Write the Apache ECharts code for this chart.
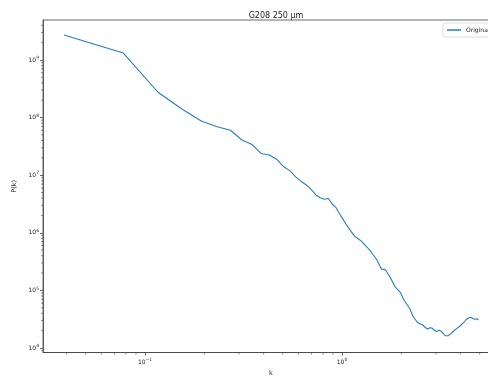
<!DOCTYPE html>
<html>
<head>
<meta charset="utf-8">
<script src="https://cdn.jsdelivr.net/npm/echarts@6/dist/echarts.min.js"></script>
<style>html,body{margin:0;padding:0;background:#fff;}#c{width:488px;height:377px;}</style>
</head>
<body>
<div id="c"></div>
<script>
// wavenumber k
const kValues = [0.0388,0.0776,0.1164,0.1552,0.194,0.2328,0.2716,0.3104,0.3492,0.388,
0.4268,0.4656,0.5044,0.5432,0.582,0.6208,0.6596,0.6984,0.7372,0.776,
0.8148,0.8536,0.8924,0.9312,0.97,1.0088,1.0476,1.0864,1.1252,1.164,
1.2028,1.2416,1.2804,1.3192,1.358,1.3968,1.4356,1.4744,1.5132,1.552,
1.5908,1.6296,1.6684,1.7072,1.746,1.7848,1.8236,1.8624,1.9012,1.94,
1.9788,2.0176,2.0564,2.0952,2.134,2.1728,2.2116,2.2504,2.2892,2.328,
2.3668,2.4056,2.4444,2.4832,2.522,2.5608,2.5996,2.6384,2.6772,2.716,
2.7548,2.7936,2.8324,2.8712,2.91,2.9488,2.9876,3.0264,3.0652,3.104,
3.1428,3.1816,3.2204,3.2592,3.298,3.3368,3.3756,3.4144,3.4532,3.492,
3.5308,3.5696,3.6084,3.6472,3.686,3.7248,3.7636,3.8024,3.8412,3.88,
3.9188,3.9576,3.9964,4.0352,4.074,4.1128,4.1516,4.1904,4.2292,4.268,
4.3068,4.3456,4.3844,4.4232,4.462,4.5008,4.5396,4.5784,4.6172,4.656,
4.6948,4.7336,4.7724,4.8112,4.85,4.8888,4.9276];
// power spectrum P(k), series "Original"
const pOriginal = [2.72e9,1.32e9,2.75e8,1.38e8,8.63e7,6.90e7,6.02e7,4.08e7,3.41e7,2.38e7,
2.24e7,1.89e7,1.41e7,1.20e7,9.31e6,7.78e6,6.76e6,5.60e6,4.53e6,4.05e6,
3.82e6,3.94e6,3.13e6,2.75e6,2.16e6,1.74e6,1.42e6,1.18e6,9.93e5,8.56e5,
7.93e5,7.35e5,6.65e5,5.94e5,5.34e5,4.78e5,4.20e5,3.72e5,3.24e5,2.70e5,
2.31e5,2.35e5,2.21e5,1.96e5,1.74e5,1.52e5,1.32e5,1.15e5,1.06e5,9.84e4,
9.19e4,8.00e4,6.95e4,6.29e4,5.81e4,5.25e4,4.75e4,4.13e4,3.59e4,3.28e4,
3.06e4,2.83e4,2.68e4,2.63e4,2.59e4,2.53e4,2.46e4,2.29e4,2.14e4,2.14e4,
2.21e4,2.25e4,2.27e4,2.21e4,2.10e4,2.01e4,1.95e4,1.93e4,1.97e4,2.03e4,
2.05e4,1.96e4,1.87e4,1.80e4,1.72e4,1.63e4,1.58e4,1.58e4,1.63e4,1.68e4,
1.72e4,1.77e4,1.84e4,1.90e4,1.97e4,2.01e4,2.10e4,2.14e4,2.23e4,2.27e4,
2.31e4,2.41e4,2.46e4,2.53e4,2.61e4,2.66e4,2.77e4,2.88e4,3.00e4,3.12e4,
3.19e4,3.25e4,3.32e4,3.35e4,3.38e4,3.41e4,3.38e4,3.32e4,3.25e4,3.19e4,
3.12e4,3.15e4,3.21e4,3.24e4,3.21e4,3.12e4,3.06e4];
const seriesName = 'Original';
const titleText = 'G208 250 \u03bcm';
const xLabel = 'k';
const yLabel = 'P(k)';
// axis limits and minor tick positions (log axes)
const xMin = 0.03035, xMax = 6.266;
const yMin = 8340, yMax = 4.94e9;
const minorTicksX = [0.04,0.05,0.06,0.07,0.08,0.09,0.2,0.3,0.4,0.5,0.6,0.7,0.8,0.9,2,3,4,5,6];
const minorTicksY = [9e3,
 2e4,3e4,4e4,5e4,6e4,7e4,8e4,9e4,
 2e5,3e5,4e5,5e5,6e5,7e5,8e5,9e5,
 2e6,3e6,4e6,5e6,6e6,7e6,8e6,9e6,
 2e7,3e7,4e7,5e7,6e7,7e7,8e7,9e7,
 2e8,3e8,4e8,5e8,6e8,7e8,8e8,9e8,
 2e9,3e9,4e9];

const axisColor = '#444';
const textColor = '#222';
const font = 'DejaVu Sans';

function powLabel(v) {
  const l = Math.log10(v);
  const e = Math.round(l);
  if (Math.abs(l - e) > 1e-6) return '';
  return '10{e|' + (e < 0 ? '\u2212' + (-e) : e) + '}';
}
const richLbl = { e: { fontSize: 4.5, fontFamily: font, color: textColor, padding: [0, 0, 4, 0] } };

const chart = echarts.init(document.getElementById('c'));
chart.setOption({
  animation: false,
  backgroundColor: '#fff',
  title: {
    text: titleText, left: 271, top: 7, textAlign: 'center',
    textStyle: { fontFamily: font, fontSize: 8, fontWeight: 'normal', color: textColor }
  },
  legend: {
    data: [{ name: seriesName, icon: 'rect' }],
    left: 443, top: 23, itemWidth: 14, itemHeight: 1.5, itemGap: 4,
    padding: [4, 4, 4, 4], borderColor: '#ddd', borderWidth: 1, borderRadius: 2,
    textStyle: { fontFamily: font, fontSize: 6, color: textColor }
  },
  grid: { left: 43, top: 20, width: 456, height: 332.5, show: true, borderColor: axisColor, borderWidth: 0.8, containLabel: false, outerBoundsMode: 'none' },
  xAxis: {
    type: 'log', logBase: 10, min: xMin, max: xMax,
    name: xLabel, nameLocation: 'middle', nameGap: 16,
    nameTextStyle: { fontFamily: font, fontSize: 6.5, color: textColor },
    axisLine: { show: true, lineStyle: { color: axisColor, width: 0.8 } },
    axisTick: { show: true, length: 3, lineStyle: { color: axisColor, width: 0.8 } },
    axisLabel: { formatter: powLabel, rich: richLbl, fontFamily: font, fontSize: 6, color: textColor, margin: 5, showMinLabel: false, showMaxLabel: false },
    splitLine: { show: false }, minorTick: { show: false }
  },
  yAxis: {
    type: 'log', logBase: 10, min: yMin, max: yMax,
    name: yLabel, nameLocation: 'middle', nameGap: 23,
    nameTextStyle: { fontFamily: font, fontSize: 6.5, color: textColor },
    axisLine: { show: true, lineStyle: { color: axisColor, width: 0.8 } },
    axisTick: { show: true, length: 3, lineStyle: { color: axisColor, width: 0.8 } },
    axisLabel: { formatter: powLabel, rich: richLbl, fontFamily: font, fontSize: 6, color: textColor, margin: 4, showMinLabel: false, showMaxLabel: false },
    splitLine: { show: false }, minorTick: { show: false }
  },
  series: [
    {
      name: seriesName, type: 'line', showSymbol: false, symbol: 'none',
      data: kValues.map((k, i) => [k, pOriginal[i]]),
      lineStyle: { color: '#2a7db8', width: 1.1 }, itemStyle: { color: '#2a7db8' }
    },
    {
      name: 'minorX', type: 'custom', silent: true, clip: false,
      data: minorTicksX.map(v => [v, yMin]),
      renderItem: function (params, api) {
        const p = api.coord([api.value(0), api.value(1)]);
        return { type: 'line', shape: { x1: p[0], y1: p[1], x2: p[0], y2: p[1] + 2 }, style: { stroke: axisColor, lineWidth: 0.6 } };
      }
    },
    {
      name: 'minorY', type: 'custom', silent: true, clip: false,
      data: minorTicksY.map(v => [xMin, v]),
      renderItem: function (params, api) {
        const p = api.coord([api.value(0), api.value(1)]);
        return { type: 'line', shape: { x1: p[0], y1: p[1], x2: p[0] - 2, y2: p[1] }, style: { stroke: axisColor, lineWidth: 0.6 } };
      }
    }
  ]
});
</script>
</body>
</html>
